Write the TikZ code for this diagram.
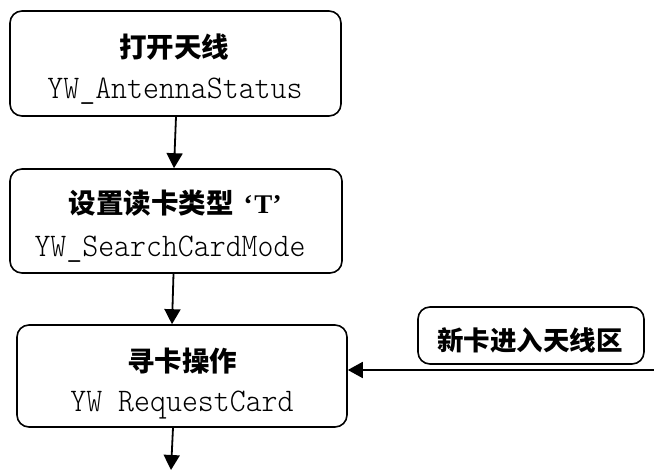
\documentclass[tikz,border=0pt]{standalone}
\usepackage{fontspec}
\usepackage{graphicx}
\usetikzlibrary{arrows.meta}
\newfontfamily\cjk{Noto Sans CJK SC}
\newfontfamily\timesb{Liberation Serif}
\tikzset{
  box/.style={draw, line width=1.6pt, rounded corners=12pt, inner sep=0pt},
  arr/.style={line width=1.8pt, -{Triangle[length=15pt,width=16pt]}},
  zh/.style={font=\cjk\bfseries\fontsize{27.5}{28}\selectfont, inner sep=0pt},
  zhsmall/.style={font=\cjk\bfseries\fontsize{26.5}{27}\selectfont, inner sep=0pt},
  code/.style={font=\ttfamily\fontseries{l}\fontsize{33}{33}\selectfont, inner sep=0pt, anchor=base},
}
\begin{document}
\begin{tikzpicture}[x=1pt,y=-1pt]
\useasboundingbox (0,0) rectangle (654,470);

% process boxes
\node[box, minimum width=331pt, minimum height=105pt] (b1) at (175.5,63.5) {};
\node[box, minimum width=332pt, minimum height=104pt] (b2) at (176,221) {};
\node[box, minimum width=330pt, minimum height=102pt] (b3) at (182,376) {};
\node[box, minimum width=226pt, minimum height=57pt] (b4) at (531,335.5) {};

% box labels
\node[zh] (t1) at (174,47.5) {打开天线};
\node[code] (c1) at (175,99) {\scalebox{0.92}[1]{YW\_AntennaStatus}};
\node[zh] (t2) at (175,203.5) {设置读卡类型\hspace{10pt}{\timesb\bfseries\fontsize{27}{27}\selectfont ‘\hspace{2pt}T’}};
\node[code] (c2) at (170,257) {\scalebox{0.92}[1]{YW\_SearchCardMode}};
\node[zh] (t3) at (182,361.5) {寻卡操作};
\node[code] (c3) at (182,412) {\scalebox{0.92}[1]{YW RequestCard}};
\node[zhsmall] (t4) at (530,340) {新卡进入天线区};

% connectors
\coordinate (src) at (654,370);
\coordinate (out) at (171,470);
\draw[arr] ([xshift=0.5pt]b1.south) -- ([xshift=-2pt]b2.north);
\draw[arr] ([xshift=-2.5pt]b2.south) -- ([xshift=-10pt]b3.north);
\draw[arr] ([xshift=-9pt]b3.south) -- (out);
\draw[arr] (src) -- (src -| b3.east);
\end{tikzpicture}
\end{document}
